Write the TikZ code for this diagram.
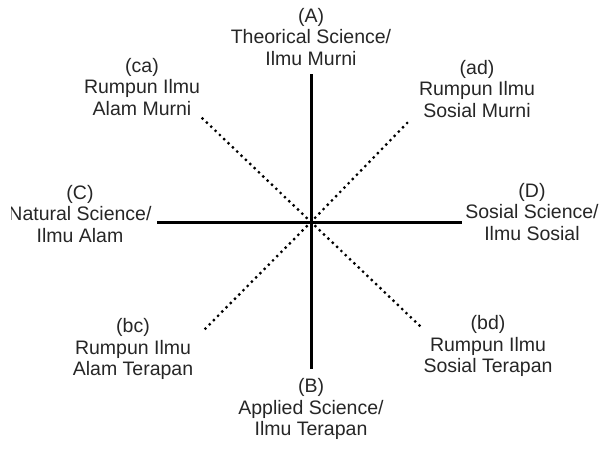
\documentclass[tikz,border=0pt]{standalone}
\usepackage{fontspec}
\setmainfont{Liberation Sans}
\begin{document}
\begin{tikzpicture}[x=1pt,y=-1pt,
  axis/.style={line width=3pt},
  diag/.style={line width=3.2pt, line cap=round, dash pattern=on 0pt off 6pt},
  lbl/.style={align=center, inner sep=0pt, text=black!85,
              font=\fontsize{19.5}{21.5}\selectfont}]
\useasboundingbox (0,0) rectangle (601,455);
\clip (11,0) rectangle (601,455);

% centre of the cross and the free ends of the axes
\coordinate (O) at (311,222);
\coordinate (top) at (311,74);
\coordinate (bot) at (311,369);
\coordinate (lft) at (157,222);
\coordinate (rgt) at (462,222);
\coordinate (ul) at (201,117);
\coordinate (ur) at (411,119);
\coordinate (ll) at (205,329);
\coordinate (lr) at (421,327);

% solid axes
\draw[axis] (top) -- (bot);
\draw[axis] (lft) -- (rgt);

% dotted diagonals
\draw[diag] (O) -- (ul);
\draw[diag] (O) -- (ur);
\draw[diag] (O) -- (ll);
\draw[diag] (O) -- (lr);

% labels
\node[lbl] (A) at (311,37) {(A)\\Theorical Science/\\Ilmu Murni};
\node[lbl] (B) at (311,409) {(B)\\Applied Science/\\Ilmu Terapan};
\node[lbl] (C) at (80,214) {(C)\\Natural Science/\\Ilmu Alam};
\node[lbl] (D) at (532,212) {(D)\\Sosial Science/\\Ilmu Sosial};
\node[lbl] (ca) at (142,87) {(ca)\\Rumpun Ilmu\\Alam Murni};
\node[lbl] (ad) at (477,89) {(ad)\\Rumpun Ilmu\\Sosial Murni};
\node[lbl] (bc) at (133,349) {(bc)\\Rumpun Ilmu\\Alam Terapan};
\node[lbl] (bd) at (488,346) {(bd)\\Rumpun Ilmu\\Sosial Terapan};
\end{tikzpicture}
\end{document}
